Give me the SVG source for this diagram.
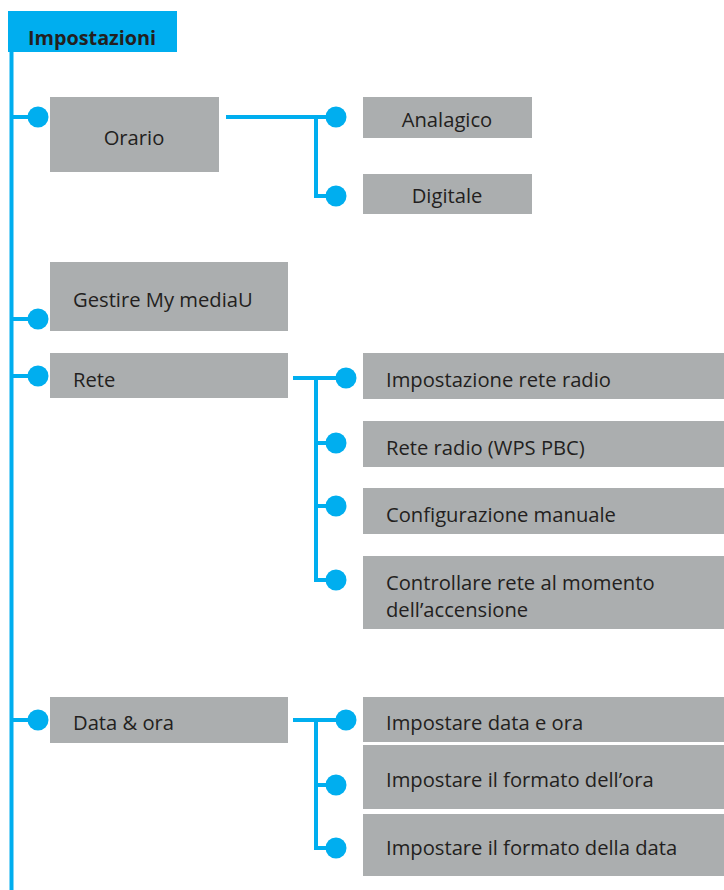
<svg xmlns="http://www.w3.org/2000/svg" width="724" height="890" viewBox="0 0 724 890">
<style>
.box{fill:#abaeaf}
.t{font-family:"Open Sans","Noto Sans","Liberation Sans",sans-serif;font-size:20.2px;fill:#231f20}
.h{font-family:"Open Sans","Noto Sans","Liberation Sans",sans-serif;font-size:19.8px;font-weight:bold;fill:#231f20}
.ln{stroke:#00aeef;stroke-width:4;fill:none}
.dot{fill:#00aeef}
</style>
<rect width="724" height="890" fill="#ffffff"/>
<g id="connectors">
<path class="ln" d="M11.5 52 V890"/>
<path class="ln" d="M11.5 117 H38 M11.5 319 H38 M11.5 376 H38 M11.5 720 H38"/>
<path class="ln" d="M226 117 H336 M316 117 V196 H336"/>
<path class="ln" d="M293 378 H346 M316 378 V580 H336 M316 443 H336 M316 506 H336"/>
<path class="ln" d="M293 720 H346 M316 720 V848 H336 M316 785 H336"/>
<circle class="dot" cx="38" cy="117" r="10.5"/>
<circle class="dot" cx="38" cy="319" r="10.5"/>
<circle class="dot" cx="38" cy="376" r="10.5"/>
<circle class="dot" cx="38" cy="720" r="10.5"/>
<circle class="dot" cx="336" cy="117" r="10.5"/>
<circle class="dot" cx="336" cy="196" r="10.5"/>
<circle class="dot" cx="346" cy="378" r="10.5"/>
<circle class="dot" cx="336" cy="443" r="10.5"/>
<circle class="dot" cx="336" cy="506" r="10.5"/>
<circle class="dot" cx="336" cy="580" r="10.5"/>
<circle class="dot" cx="346" cy="720" r="10.5"/>
<circle class="dot" cx="336" cy="785" r="10.5"/>
<circle class="dot" cx="336" cy="848" r="10.5"/>
</g>
<g id="impostazioni">
<rect x="8" y="11" width="169" height="41" fill="#00aeef"/>
<text class="h" x="28" y="45">Impostazioni</text>
</g>
<g id="orario">
<rect class="box" x="50" y="97" width="169" height="75"/>
<text class="t" x="134" y="145" text-anchor="middle">Orario</text>
</g>
<g id="analagico">
<rect class="box" x="363" y="97" width="169" height="41"/>
<text class="t" x="447" y="127" text-anchor="middle">Analagico</text>
</g>
<g id="digitale">
<rect class="box" x="363" y="174" width="169" height="40"/>
<text class="t" x="447" y="203" text-anchor="middle">Digitale</text>
</g>
<g id="gestire">
<rect class="box" x="50" y="262" width="238" height="69"/>
<text class="t" x="73" y="307">Gestire My mediaU</text>
</g>
<g id="rete">
<rect class="box" x="50" y="353" width="238" height="45"/>
<text class="t" x="73" y="387">Rete</text>
</g>
<g id="impostazione-rete-radio">
<rect class="box" x="363" y="353" width="361" height="46"/>
<text class="t" x="386" y="387">Impostazione rete radio</text>
</g>
<g id="rete-radio-wps">
<rect class="box" x="363" y="421" width="361" height="46"/>
<text class="t" x="386" y="455">Rete radio (WPS PBC)</text>
</g>
<g id="configurazione-manuale">
<rect class="box" x="363" y="488" width="361" height="46"/>
<text class="t" x="386" y="522">Configurazione manuale</text>
</g>
<g id="controllare-rete">
<rect class="box" x="363" y="556" width="361" height="73"/>
<text class="t" x="386" y="590">Controllare rete al momento</text>
<text class="t" x="386" y="617">dell’accensione</text>
</g>
<g id="data-ora">
<rect class="box" x="50" y="697" width="238" height="46"/>
<text class="t" x="73" y="730">Data &amp; ora</text>
</g>
<g id="impostare-data-ora">
<rect class="box" x="363" y="697" width="361" height="45"/>
<text class="t" x="386" y="730">Impostare data e ora</text>
</g>
<g id="formato-ora">
<rect class="box" x="363" y="745" width="361" height="64"/>
<text class="t" x="386" y="787">Impostare il formato dell’ora</text>
</g>
<g id="formato-data">
<rect class="box" x="363" y="814" width="361" height="62"/>
<text class="t" x="386" y="855">Impostare il formato della data</text>
</g>
</svg>
